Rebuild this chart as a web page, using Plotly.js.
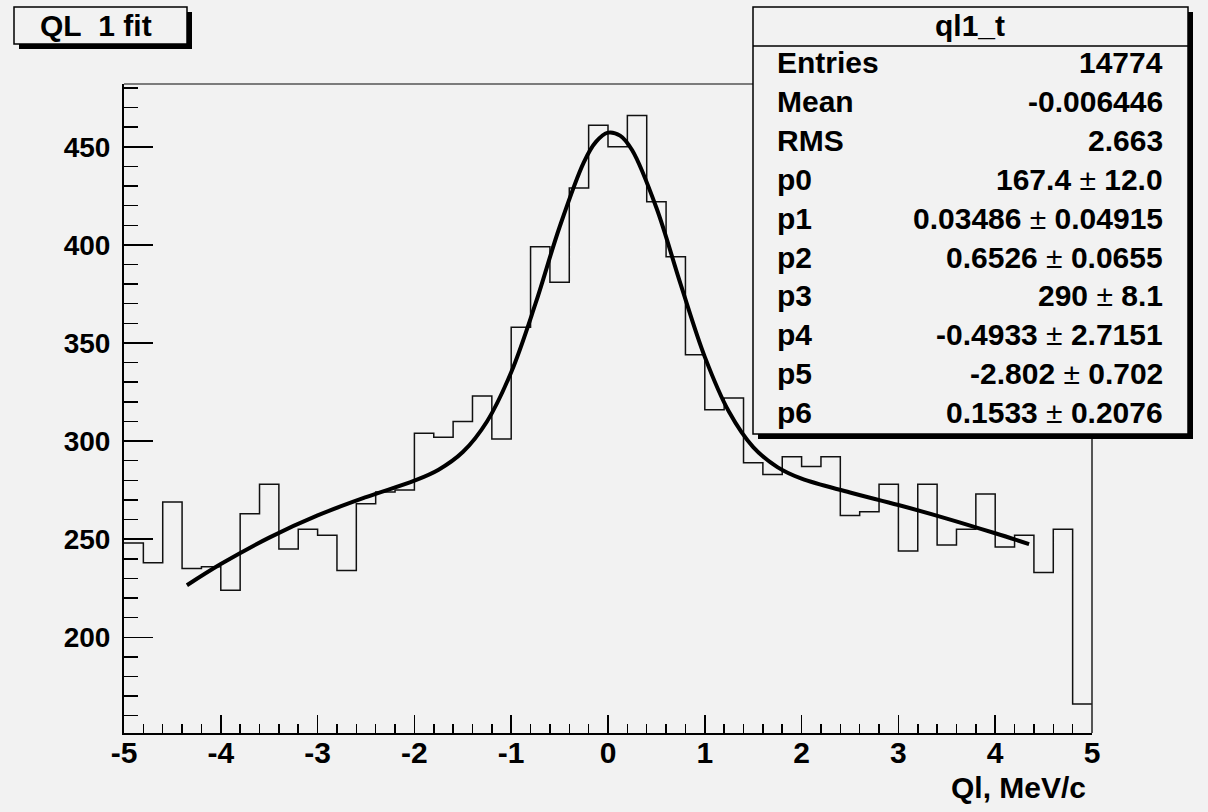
<!DOCTYPE html>
<html>
<head>
<meta charset="utf-8">
<script src="https://cdn.plot.ly/plotly-3.0.1.min.js"></script>
<style>
html,body{margin:0;padding:0;background:#f2f2f2;}
#chart{width:1208px;height:812px;}
</style>
</head>
<body>
<div id="chart"></div>
<script>
// ---- data ----
const binLow = [-5.0,-4.8,-4.6,-4.4,-4.2,-4.0,-3.8,-3.6,-3.4,-3.2,
                -3.0,-2.8,-2.6,-2.4,-2.2,-2.0,-1.8,-1.6,-1.4,-1.2,
                -1.0,-0.8,-0.6,-0.4,-0.2, 0.0, 0.2, 0.4, 0.6, 0.8,
                 1.0, 1.2, 1.4, 1.6, 1.8, 2.0, 2.2, 2.4, 2.6, 2.8,
                 3.0, 3.2, 3.4, 3.6, 3.8, 4.0, 4.2, 4.4, 4.6, 4.8];
const xMax = 5.0;
const counts = [248,238,269,235,236,224,263,278,245,255,
                252,234,268,274,275,304,302,310,323,301,
                358,399,381,429,461,450,466,422,394,344,
                316,322,289,283,292,287,292,262,264,278,
                244,278,247,255,273,246,252,233,255,166];
const fitX = [-4.35,-4.0,-3.5,-3.0,-2.5,-2.0,-1.75,-1.5,-1.25,-1.0,-0.75,-0.5,-0.25,-0.125,0.0,0.125,0.25,0.5,0.75,1.0,1.25,1.5,1.75,2.0,2.5,3.0,3.5,4.0,4.35];
const fitY = [226.5,237.3,250.8,262.1,271.4,279.8,285.4,294.4,310.0,335.1,369.9,409.1,442.1,452.5,457.2,455.7,448.2,418.9,380.0,342.9,314.9,296.9,286.7,280.8,273.8,267.4,260.5,253.0,247.5];
const xTickVals = [-5,-4,-3,-2,-1,0,1,2,3,4,5];
const yTickVals = [200,250,300,350,400,450];
const statsTitle = 'ql1_t';
const statLabels = ['Entries','Mean','RMS','p0','p1','p2','p3','p4','p5','p6'];
const statValues = ['14774','-0.006446','2.663',
  '167.4 ± 12.0','0.03486 ± 0.04915','0.6526 ± 0.0655','290 ± 8.1',
  '-0.4933 ± 2.7151','-2.802 ± 0.702','0.1533 ± 0.2076'];
const chartTitle = 'QL\u00a0\u00a01 fit';
const xTitle = 'Ql, MeV/c';

// ---- geometry ----
const W = 1208, H = 812;
const L = 124, R = 1092, T = 84, B = 733;
const px = x => (x - L) / (R - L);
const py = y => (B - y) / (B - T);
const FONT = 'Liberation Sans, Arial, sans-serif';
const BG = '#f2f2f2';

const histX = binLow.concat([xMax]);
const histY = counts.concat([counts[counts.length - 1]]);

const traces = [
  {x: histX, y: histY, type: 'scatter', mode: 'lines',
   line: {shape: 'hv', color: '#111', width: 1.5}, hoverinfo: 'skip', showlegend: false},
  {x: fitX, y: fitY, type: 'scatter', mode: 'lines',
   line: {shape: 'spline', smoothing: 1, color: '#000', width: 4}, hoverinfo: 'skip', showlegend: false}
];

function rect(x0, y0, x1, y1, fill, lineColor, lw) {
  return {type: 'rect', xref: 'paper', yref: 'paper', layer: 'above',
    x0: px(x0), x1: px(x1), y0: py(y1), y1: py(y0),
    fillcolor: fill, line: {color: lineColor, width: lw}};
}
function hline(x0, x1, y, color, lw) {
  return {type: 'line', xref: 'paper', yref: 'paper', layer: 'above',
    x0: px(x0), x1: px(x1), y0: py(y), y1: py(y), line: {color: color, width: lw}};
}
function vline(x, y0, y1, color, lw) {
  return {type: 'line', xref: 'paper', yref: 'paper', layer: 'above',
    x0: px(x), x1: px(x), y0: py(y0), y1: py(y1), line: {color: color, width: lw}};
}

const shapes = [
  hline(L, R, T, '#555', 1.5),
  vline(R, T, B, '#222', 1.5),
  // title box
  rect(19, 12, 192, 49, '#000', '#000', 0),
  rect(14, 7, 187, 44, BG, '#000', 1.5),
  // stats box
  rect(758, 12, 1193, 439, '#000', '#000', 0),
  rect(753, 7, 1188, 434, BG, '#000', 1.5),
  hline(753, 1188, 46, '#000', 1.5)
];

const annotations = [];
function ann(text, x, y, xanchor, size) {
  annotations.push({text: text, xref: 'paper', yref: 'paper', x: px(x), y: py(y),
    xanchor: xanchor, yanchor: 'middle', showarrow: false,
    font: {family: FONT, size: size, color: '#000', weight: 'bold'}});
}
ann(chartTitle, 96, 26, 'center', 30);
ann(statsTitle, 970, 26, 'center', 30);
const rowY0 = 63, rowStep = 38.8;
statLabels.forEach((lab, i) => {
  const y = rowY0 + i * rowStep;
  ann(lab, 775, y, 'left', 30);
  const v = statValues[i].replace('±', '<span style="font-weight:normal">±</span>');
  ann(v, 1165, y, 'right', 30);
});
ann(xTitle, 1088, 787, 'right', 30);

const layout = {
  width: W, height: H,
  paper_bgcolor: BG, plot_bgcolor: BG,
  margin: {l: L, r: W - R, t: T, b: H - B, pad: 0},
  showlegend: false,
  xaxis: {
    range: [-5, 5], tickvals: xTickVals, ticktext: xTickVals.map(String),
    showgrid: false, zeroline: false, showline: true, linecolor: '#000', linewidth: 2,
    ticks: 'inside', ticklen: 18, tickwidth: 1.5, tickcolor: '#000',
    minor: {dtick: 0.2, tick0: 0, ticks: 'inside', ticklen: 9, tickwidth: 1.5, tickcolor: '#000', showgrid: false},
    tickfont: {family: FONT, size: 30, color: '#000', weight: 'bold'},
    ticklabelstandoff: -8
  },
  yaxis: {
    range: [151.2, 482], tickvals: yTickVals, ticktext: yTickVals.map(String),
    showgrid: false, zeroline: false, showline: true, linecolor: '#000', linewidth: 2,
    ticks: 'inside', ticklen: 29, tickwidth: 1.5, tickcolor: '#000',
    minor: {dtick: 10, tick0: 0, ticks: 'inside', ticklen: 14, tickwidth: 1.5, tickcolor: '#000', showgrid: false},
    tickfont: {family: FONT, size: 28, color: '#000', weight: 'bold'},
    ticklabelstandoff: 6
  },
  shapes: shapes,
  annotations: annotations
};

Plotly.newPlot('chart', traces, layout, {displayModeBar: false, staticPlot: true});
</script>
</body>
</html>
